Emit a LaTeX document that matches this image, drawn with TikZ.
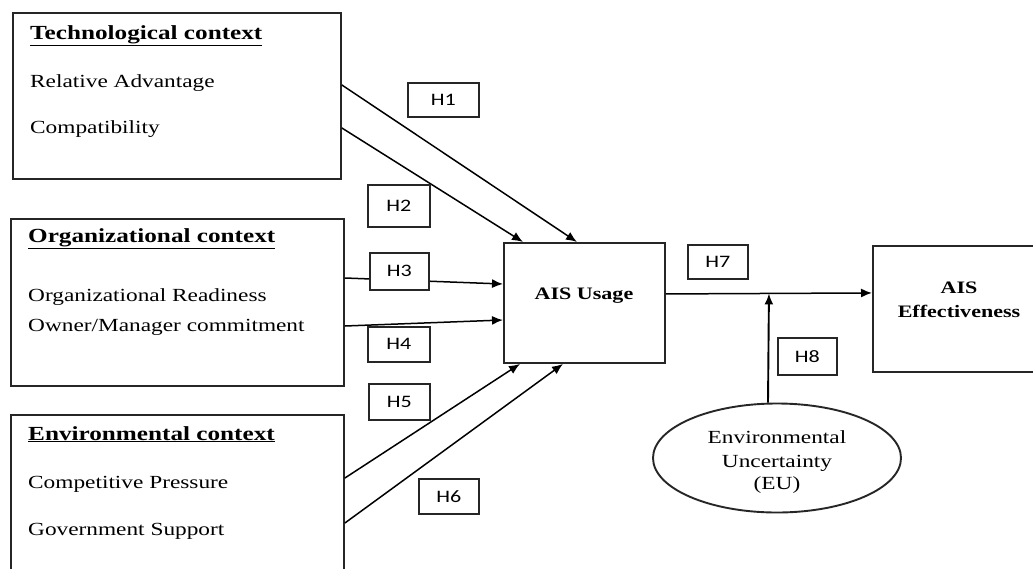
\documentclass[tikz,border=0pt]{standalone}
\usepackage{fontspec}
\setmainfont{Liberation Serif}[FakeStretch=1.26]
\newfontfamily\hfont{Carlito}[FakeStretch=1.26]
\usetikzlibrary{arrows.meta,shapes.geometric,calc}
\tikzset{
  box/.style={draw=black!85,line width=1.9pt,rectangle,anchor=north west,inner sep=0pt},
  hbox/.style={draw=black!85,line width=1.7pt,fill=white,rectangle,anchor=north west,inner sep=0pt,
    font=\hfont\fontsize{17.5}{20}\selectfont},
  txt/.style={anchor=base west,inner sep=0pt,font=\fontsize{18.5}{22}\selectfont},
  head/.style={anchor=base west,inner sep=0pt,font=\bfseries\fontsize{20}{24}\selectfont},
  ctxt/.style={anchor=base,inner sep=0pt,font=\fontsize{18.5}{22}\selectfont},
  btxt/.style={anchor=base,inner sep=0pt,font=\bfseries\fontsize{17.5}{21}\selectfont},
  arr/.style={draw=black,line width=1.5pt,-{Latex[length=11pt,width=9pt]}},
}
\begin{document}
\begin{tikzpicture}[x=1pt,y=-1pt]
\useasboundingbox (0,0) rectangle (1033,568);
\clip (0,0) rectangle (1033,568);
\fill[white] (0,0) rectangle (1033,568);
% context boxes
\node[box,minimum width=328pt,minimum height=166pt] (tech) at (12,12) {};
\node[box,minimum width=333pt,minimum height=167pt] (org) at (10,218) {};
\node[box,minimum width=333pt,minimum height=200pt] (env) at (10,414) {};
\node[head] (th) at (30,39) {\underline{Technological context}};
\node[txt] (t1) at (30,87) {Relative Advantage};
\node[txt] (t2) at (30,133) {Compatibility};
\node[head] (oh) at (28,242) {\underline{Organizational context}};
\node[txt] (o1) at (28,301) {Organizational Readiness};
\node[txt] (o2) at (28,331) {Owner/Manager commitment};
\node[head] (eh) at (28,440) {\underline{Environmental context}};
\node[txt] (e1) at (28,488) {Competitive Pressure};
\node[txt] (e2) at (28,535) {Government Support};
% central boxes
\node[box,minimum width=161pt,minimum height=120pt] (ais) at (503,242) {};
\node[btxt] (aist) at (584,299) {AIS Usage};
\node[box,minimum width=200pt,minimum height=126pt] (eff) at (872,245) {};
\node[btxt] (efft1) at (959,293) {AIS};
\node[btxt] (efft2) at (959,317) {Effectiveness};
\node[draw=black!85,line width=1.9pt,ellipse,minimum width=248pt,minimum height=109pt,inner sep=0pt] (eu) at (777,458) {};
\node[ctxt] (eu1) at (777,443) {Environmental};
\node[ctxt] (eu2) at (777,467) {Uncertainty};
\node[ctxt] (eu3) at (777,489) {(EU)};
% connectors
\draw[arr] ([yshift=-73pt]tech.north east) -- ([xshift=74pt]ais.north west);
\draw[arr] ([yshift=-116pt]tech.north east) -- ([xshift=20pt]ais.north west);
\draw[arr] ([yshift=-60pt]org.north east) -- ([yshift=-42pt]ais.north west);
\draw[arr] ([yshift=-108pt]org.north east) -- ([yshift=-78pt]ais.north west);
\draw[arr] ([yshift=-64pt]env.north east) -- ([xshift=17pt]ais.south west);
\draw[arr] ([yshift=-109pt]env.north east) -- ([xshift=60pt]ais.south west);
\draw[arr] ([yshift=9pt]ais.east) -- coordinate[pos=0.5] (mod) ([yshift=16pt]eff.west);
\draw[arr,line width=1.9pt] ([xshift=-9pt]eu.north) -- (mod);
% hypothesis labels
\node[hbox,minimum width=71pt,minimum height=34pt] (h1) at (407,82) {H1};
\node[hbox,minimum width=62pt,minimum height=42pt] (h2) at (367,184) {H2};
\node[hbox,minimum width=59pt,minimum height=37pt] (h3) at (369,252) {H3};
\node[hbox,minimum width=62pt,minimum height=35pt] (h4) at (367,326) {H4};
\node[hbox,minimum width=61pt,minimum height=36pt] (h5) at (368,383) {H5};
\node[hbox,minimum width=60pt,minimum height=35pt] (h6) at (418,478) {H6};
\node[hbox,minimum width=60pt,minimum height=34pt] (h7) at (687,244) {H7};
\node[hbox,minimum width=59pt,minimum height=37pt] (h8) at (777,337) {H8};
\end{tikzpicture}
\end{document}
